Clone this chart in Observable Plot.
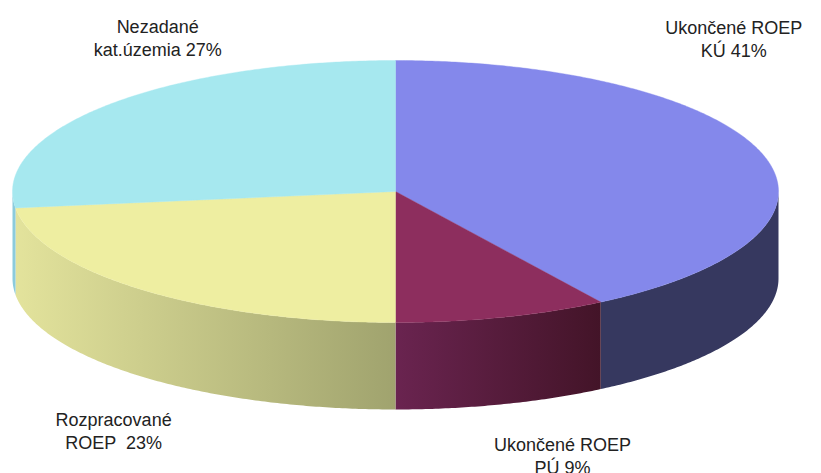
<!DOCTYPE html>
<html>
<head>
<meta charset="utf-8">
<script src="https://cdn.jsdelivr.net/npm/d3@7"></script>
<script src="https://cdn.jsdelivr.net/npm/@observablehq/plot@0.6"></script>
<style>html,body{margin:0;padding:0;background:#fff;overflow:hidden}svg{display:block}</style>
</head>
<body>
<div id="chart"></div>
<script>
const categories = ["Ukončené ROEP\nKÚ 41%", "Ukončené ROEP\nPÚ 9%", "Rozpracované\nROEP  23%", "Nezadané\nkat.územia 27%"];
const shares = [41, 9, 23, 27];
const topColors = ["#8488eb", "#8d2e5e", "#eeeea1", "#a6e8ef"];
const sideStops = [["#36385f", "#36385f"], ["#6a2450", "#431428"], ["#e3e39c", "#a0a36e"], ["#8ccbdc", "#8ccbdc"]];
const labelX = [0.883, 0.436, -0.736, -0.621];
const labelY = [1.168, -2.011, -1.824, 1.176];
const depth = 0.664;

const total = d3.sum(shares);
const ends = d3.cumsum(shares).map(v => v / total * 360);
const starts = [0, ...ends.slice(0, -1)];
const rad = d => d * Math.PI / 180;
const arc = (a, b, dy = 0) => {
  const n = Math.max(2, Math.ceil(Math.abs(b - a) * 2));
  return d3.range(n + 1).map(i => {
    const t = rad(a + (b - a) * i / n);
    return {x: Math.sin(t), y: Math.cos(t) + dy};
  });
};
const topPoly = (a, b) => [{x: 0, y: 0}, ...arc(a, b), {x: 0, y: 0}];
// Front-facing wall: the part of the slice between 90° and 270°
const sidePoly = (a, b) => {
  const lo = Math.max(a, 90), hi = Math.min(b, 270);
  if (hi <= lo) return null;
  return [...arc(lo, hi), ...arc(hi, lo, -depth)];
};

const defs = () => {
  const d = d3.create("svg:defs");
  sideStops.forEach((stops, i) => {
    const g = d.append("linearGradient").attr("id", "side" + i);
    g.append("stop").attr("offset", 0).attr("stop-color", stops[0]);
    g.append("stop").attr("offset", 1).attr("stop-color", stops[1]);
  });
  return d.node();
};

const sideMarks = shares.map((_, i) => {
  const p = sidePoly(starts[i], ends[i]);
  return p && Plot.line(p, {x: "x", y: "y", fill: `url(#side${i})`, stroke: "none"});
}).filter(Boolean);
const topMarks = shares.map((_, i) =>
  Plot.line(topPoly(starts[i], ends[i]), {x: "x", y: "y", fill: topColors[i], stroke: topColors[i], strokeWidth: 0.4})
);

const chart = Plot.plot({
  width: 821,
  height: 473,
  margin: 0,
  x: {domain: [-1, 1], range: [12, 778], axis: null},
  y: {domain: [-1, 1], range: [322, 60], axis: null},
  marks: [
    defs,
    ...sideMarks,
    ...topMarks,
    Plot.text(categories, {
      x: (_, i) => labelX[i],
      y: (_, i) => labelY[i],
      text: d => d,
      fontSize: 18,
      lineHeight: 1.28,
      lineAnchor: "middle",
      textAnchor: "middle",
      fill: "#222",
      fontFamily: "Liberation Sans"
    })
  ]
});
document.getElementById("chart").append(chart);
</script>
</body>
</html>
